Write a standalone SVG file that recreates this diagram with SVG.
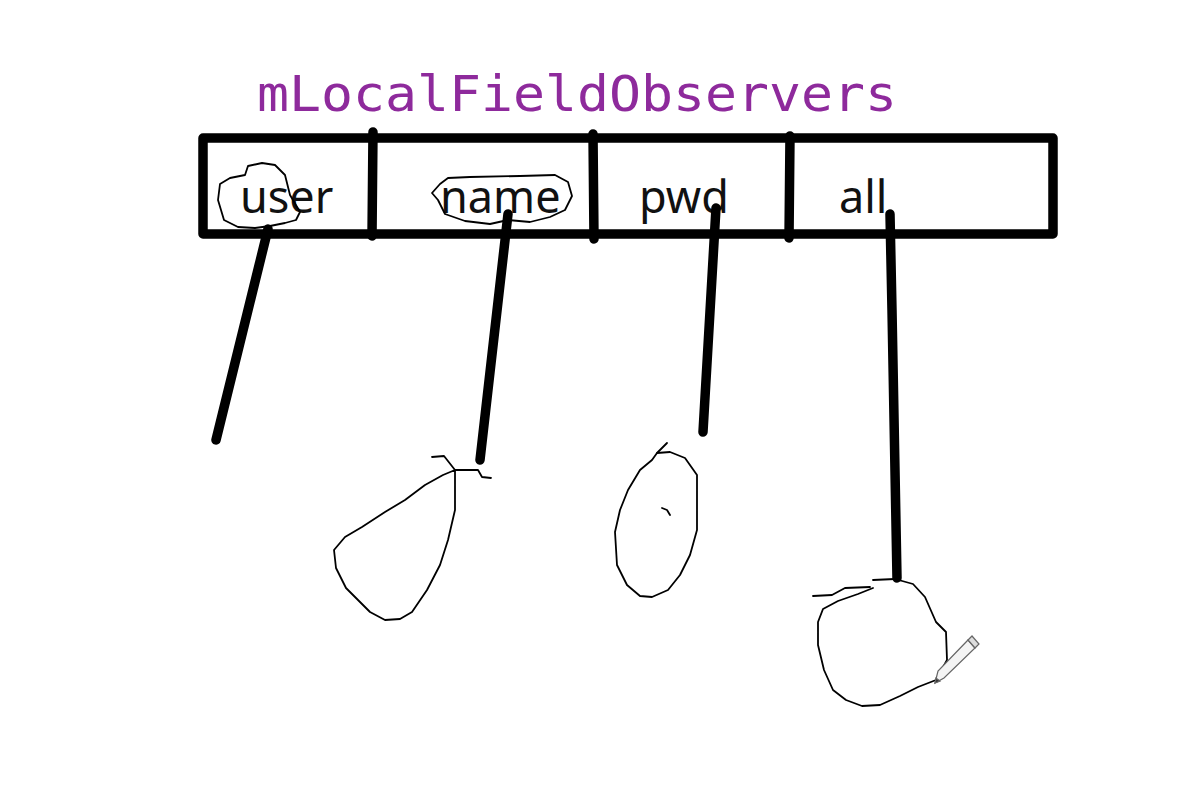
<svg xmlns="http://www.w3.org/2000/svg" width="1199" height="797" viewBox="0 0 1199 797">
<style>
.title{font-family:"DejaVu Sans Mono","Liberation Mono",monospace;font-size:50px;fill:#8e2a9c}
.lbl{font-family:"Noto Sans","Open Sans","DejaVu Sans",sans-serif;font-size:45px;fill:#111}
.thick{stroke:#000;stroke-width:9.5;fill:none;stroke-linecap:round;stroke-linejoin:round}
.thin{stroke:#000;stroke-width:1.8;fill:none;stroke-linecap:round;stroke-linejoin:round}
</style>
<rect width="1199" height="797" fill="#fff"/>
<g id="title"><text class="title" x="257" y="111" textLength="640" lengthAdjust="spacingAndGlyphs">mLocalFieldObservers</text></g>
<g id="array">
<rect class="thick" x="203" y="138" width="850" height="96" stroke-linecap="butt" stroke-linejoin="miter"/>
<line class="thick" x1="373" y1="132" x2="372" y2="236"/>
<line class="thick" x1="593" y1="134" x2="594" y2="239"/>
<line class="thick" x1="790" y1="136" x2="789" y2="238"/>
</g>
<g id="user"><text class="lbl" x="240" y="213">user</text>
<path class="thin" d="M218,200 L220,184 L230,178 L245,175 L248,166 L262,163 L275,165 L285,175 L290,195 L300,212 L296,220 L285,223 L270,226 L255,228 L238,227 L224,220 Z"/></g>
<g id="name"><text class="lbl" x="440" y="213">name</text>
<path class="thin" d="M440,184 L448,178 L470,177 L520,176 L555,175 L568,182 L572,196 L565,210 L550,217 L530,222 L508,220 L490,224 L465,221 L445,214 L438,200 L432,193 Z"/></g>
<g id="pwd"><text class="lbl" x="639" y="213">pwd</text></g>
<g id="all"><text class="lbl" x="839" y="213">all</text></g>
<g id="connectors">
<line class="thick" x1="268" y1="229" x2="216" y2="440"/>
<line class="thick" x1="508" y1="214" x2="480" y2="460"/>
<line class="thick" x1="716" y1="208" x2="703" y2="432"/>
<polyline class="thick" points="890,214 892,310 897,578"/>
</g>
<g id="pear">
<path class="thin" d="M432,457 L444,456 L455,470 L478,470 L482,477 L491,478"/>
<path class="thin" d="M455,470 L455,510 L448,540 L440,565 L427,590 L412,612 L400,619 L385,620 L370,612 L358,600 L346,588 L336,568 L334,550 L345,537 L362,527 L385,512 L405,500 L425,485 L443,475 Z"/>
</g>
<g id="oval">
<path class="thin" d="M657,453 L667,443"/>
<path class="thin" d="M657,453 L670,452 L685,458 L697,475 L697,530 L690,555 L680,575 L668,590 L652,597 L640,596 L627,585 L617,565 L615,532 L620,510 L628,490 L640,470 L652,460 Z"/>
<path class="thin" d="M662,508 L667,510 L670,515"/>
</g>
<g id="circle">
<path class="thin" d="M813,596 L832,595 L845,588 L870,587"/>
<path class="thin" d="M873,580 L895,579 L913,584 L925,597 L936,622 L946,632 L947,660 L936,680 L918,687 L900,696 L880,705 L862,706 L846,700 L833,690 L824,670 L818,645 L818,622 L823,609 L838,601 L858,594 L873,588"/>
<g id="pencil" stroke="#666" stroke-width="1.2" fill="#f4f4f4">
<polygon points="935,683 938,671 968,640 975,648 944,678"/>
<polygon points="968,640 972,636 979,644 975,648" fill="#ddd"/>
<polygon points="935,683 936,678 940,681" fill="#333"/>
</g>
</g>
</svg>
